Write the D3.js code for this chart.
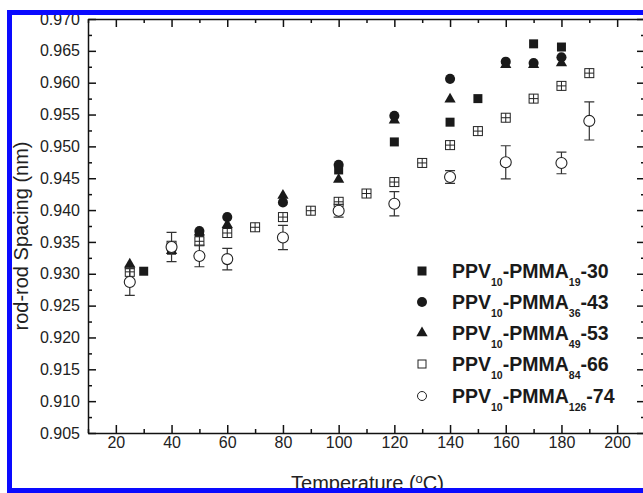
<!DOCTYPE html>
<html>
<head>
<meta charset="utf-8">
<script src="https://cdn.jsdelivr.net/npm/d3@7"></script>
<style>
body { margin: 0; background: #fff; }
svg { display: block; font-family: "Liberation Sans", Arial, sans-serif; }
</style>
</head>
<body>
<div id="chart"></div>
<script>
// PPV10-PMMA19-30 (filled square)
const s30T = [30, 40, 50, 100, 120, 140, 150, 170, 180];
const s30V = [0.9304, 0.9337, 0.9361, 0.9463, 0.9507, 0.9538, 0.9575, 0.9661, 0.9656];
// PPV10-PMMA36-43 (filled circle)
const s43T = [40, 50, 60, 80, 100, 120, 140, 160, 170, 180];
const s43V = [0.9341, 0.9367, 0.9389, 0.9412, 0.9471, 0.9548, 0.9606, 0.9633, 0.9631, 0.9640];
// PPV10-PMMA49-53 (filled triangle)
const s53T = [25, 40, 50, 60, 80, 100, 120, 140, 160, 170, 180];
const s53V = [0.9315, 0.9336, 0.9365, 0.9377, 0.9423, 0.9448, 0.9541, 0.9574, 0.9628, 0.9628, 0.9631];
// PPV10-PMMA84-66 (open square)
const s66T = [25, 40, 50, 60, 70, 80, 90, 100, 110, 120, 130, 140, 150, 160, 170, 180, 190];
const s66V = [0.9303, 0.9344, 0.9351, 0.9364, 0.9373, 0.9389, 0.9399, 0.9413, 0.9426, 0.9444, 0.9474, 0.9502, 0.9524, 0.9545, 0.9575, 0.9595, 0.9615];
// PPV10-PMMA126-74 (open circle, with error bars)
const s74T = [25, 40, 50, 60, 80, 100, 120, 140, 160, 180, 190];
const s74V = [0.9287, 0.9342, 0.9328, 0.9323, 0.9357, 0.9399, 0.9410, 0.9452, 0.9475, 0.9474, 0.9540];
const s74E = [0.0021, 0.0023, 0.0017, 0.0017, 0.0019, 0.0010, 0.0019, 0.0010, 0.0026, 0.0017, 0.0030];

const xTicks = [20, 40, 60, 80, 100, 120, 140, 160, 180, 200];
const yTicks = [0.905, 0.910, 0.915, 0.920, 0.925, 0.930, 0.935, 0.940, 0.945, 0.950, 0.955, 0.960, 0.965, 0.970];

const legendNames = [
    ["PPV", "10", "-PMMA", "19", "-30"],
    ["PPV", "10", "-PMMA", "36", "-43"],
    ["PPV", "10", "-PMMA", "49", "-53"],
    ["PPV", "10", "-PMMA", "84", "-66"],
    ["PPV", "10", "-PMMA", "126", "-74"]
];

const W = 643, H = 493;
const margin = {left: 88, right: 645, top: 19, bottom: 433};

const svg = d3.select("#chart").append("svg").attr("width", W).attr("height", H);

const x = d3.scaleLinear().domain([10, 210]).range([margin.left, margin.right]);
const y = d3.scaleLinear().domain([0.905, 0.970]).range([margin.bottom, margin.top]);

const xMinor = d3.range(10, 211, 10).filter(d => d % 20 !== 0);
const yMinor = d3.range(0, 13).map(i => +(0.9075 + i * 0.005).toFixed(4));

function styleAxis(g) {
    g.selectAll("path, line").attr("stroke", "#111").attr("stroke-width", 1.5);
    g.selectAll("text").attr("fill", "#222").style("font-size", "16px");
}

// major axes
svg.append("g").attr("transform", "translate(0," + margin.bottom + ")")
    .call(d3.axisBottom(x).tickValues(xTicks).tickSize(-8).tickSizeOuter(0).tickPadding(4).tickFormat(d3.format("d")))
    .call(styleAxis);
svg.append("g").attr("transform", "translate(0," + margin.top + ")")
    .call(d3.axisTop(x).tickValues(xTicks).tickSize(-8).tickSizeOuter(0).tickFormat(""))
    .call(styleAxis);
svg.append("g").attr("transform", "translate(" + margin.left + ",0)")
    .call(d3.axisLeft(y).tickValues(yTicks).tickSize(-8).tickSizeOuter(0).tickPadding(8).tickFormat(d3.format(".3f")))
    .call(styleAxis);
svg.append("g").attr("transform", "translate(" + margin.right + ",0)")
    .call(d3.axisRight(y).tickValues(yTicks).tickSize(-8).tickSizeOuter(0).tickFormat(""))
    .call(styleAxis);

// minor ticks
svg.append("g").attr("transform", "translate(0," + margin.bottom + ")")
    .call(d3.axisBottom(x).tickValues(xMinor).tickSize(-4).tickFormat("")).call(styleAxis)
    .select(".domain").remove();
svg.append("g").attr("transform", "translate(0," + margin.top + ")")
    .call(d3.axisTop(x).tickValues(xMinor).tickSize(-4).tickFormat("")).call(styleAxis)
    .select(".domain").remove();
svg.append("g").attr("transform", "translate(" + margin.left + ",0)")
    .call(d3.axisLeft(y).tickValues(yMinor).tickSize(-4).tickFormat("")).call(styleAxis)
    .select(".domain").remove();
svg.append("g").attr("transform", "translate(" + margin.right + ",0)")
    .call(d3.axisRight(y).tickValues(yMinor).tickSize(-4).tickFormat("")).call(styleAxis)
    .select(".domain").remove();

// axis titles
const xt = svg.append("text").attr("x", (margin.left + margin.right) / 2 + 1).attr("y", 490)
    .attr("text-anchor", "middle").attr("fill", "#222").style("font-size", "20px");
xt.append("tspan").text("Temperature (");
xt.append("tspan").attr("dy", -7).style("font-size", "13px").text("o");
xt.append("tspan").attr("dy", 7).text("C)");

svg.append("text").attr("transform", "translate(28,236) rotate(-90)")
    .attr("text-anchor", "middle").attr("fill", "#222").style("font-size", "20px")
    .text("rod-rod Spacing (nm)");

// data
const pts = (T, V) => T.map((t, i) => ({t: t, v: V[i]}));
const plot = svg.append("g");

plot.selectAll(".s30").data(pts(s30T, s30V)).enter().append("path")
    .attr("transform", d => "translate(" + x(d.t) + "," + y(d.v) + ")")
    .attr("d", d3.symbol(d3.symbolSquare, 81)).attr("fill", "#1a1a1a");

plot.selectAll(".s43").data(pts(s43T, s43V)).enter().append("path")
    .attr("transform", d => "translate(" + x(d.t) + "," + y(d.v) + ")")
    .attr("d", d3.symbol(d3.symbolCircle, 80)).attr("fill", "#1a1a1a");

plot.selectAll(".s53").data(pts(s53T, s53V)).enter().append("path")
    .attr("transform", d => "translate(" + x(d.t) + "," + y(d.v) + ")")
    .attr("d", d3.symbol(d3.symbolTriangle, 55)).attr("fill", "#1a1a1a");

const sq = plot.selectAll(".s66").data(pts(s66T, s66V)).enter().append("g")
    .attr("transform", d => "translate(" + x(d.t) + "," + y(d.v) + ")");
sq.append("rect").attr("x", -4.5).attr("y", -4.5).attr("width", 9).attr("height", 9)
    .attr("fill", "#fff").attr("stroke", "#222").attr("stroke-width", 1);
sq.append("path").attr("d", "M-4.5,0H4.5M0,-4.5V4.5").attr("stroke", "#222").attr("stroke-width", 1);

const oc = plot.selectAll(".s74").data(s74T.map((t, i) => ({t: t, v: s74V[i], e: s74E[i]}))).enter().append("g");
oc.append("path")
    .attr("d", d => {
        const cx = x(d.t), y0 = y(d.v - d.e), y1 = y(d.v + d.e);
        return "M" + cx + "," + y0 + "V" + y1 + "M" + (cx - 5) + "," + y0 + "H" + (cx + 5) + "M" + (cx - 5) + "," + y1 + "H" + (cx + 5);
    })
    .attr("stroke", "#333").attr("stroke-width", 1.2).attr("fill", "none");
oc.append("circle").attr("cx", d => x(d.t)).attr("cy", d => y(d.v)).attr("r", 5.5)
    .attr("fill", "#fff").attr("stroke", "#222").attr("stroke-width", 1.1);

// legend
const legY = [271, 302, 333, 364, 396];
const lg = svg.append("g");
legendNames.forEach((parts, i) => {
    const g = lg.append("g").attr("transform", "translate(422," + legY[i] + ")");
    if (i === 0) g.append("rect").attr("x", -4.5).attr("y", -4.5).attr("width", 9).attr("height", 9).attr("fill", "#1a1a1a");
    if (i === 1) g.append("circle").attr("r", 5).attr("fill", "#1a1a1a");
    if (i === 2) g.append("path").attr("d", d3.symbol(d3.symbolTriangle, 55)).attr("fill", "#1a1a1a");
    if (i === 3) g.append("rect").attr("x", -4).attr("y", -4).attr("width", 8).attr("height", 8)
        .attr("fill", "#fff").attr("stroke", "#222").attr("stroke-width", 1);
    if (i === 4) g.append("circle").attr("r", 4.5).attr("fill", "#fff").attr("stroke", "#222").attr("stroke-width", 1);

    const t = g.append("text").attr("x", 30).attr("y", 7).attr("fill", "#1a1a1a")
        .style("font-size", "19.5px").style("font-weight", "bold");
    t.append("tspan").text(parts[0]);
    t.append("tspan").attr("dy", 8).style("font-size", "10.5px").text(parts[1]);
    t.append("tspan").attr("dy", -8).text(parts[2]);
    t.append("tspan").attr("dy", 8).style("font-size", "10.5px").text(parts[3]);
    t.append("tspan").attr("dy", -8).text(parts[4]);
});

// blue frame
svg.append("rect").attr("x", 0).attr("y", 0).attr("width", W).attr("height", 10).attr("fill", "#fff");
svg.append("rect").attr("x", 9.5).attr("y", 12.5).attr("width", 700).attr("height", 478)
    .attr("fill", "none").attr("stroke", "#0a0aff").attr("stroke-width", 5);
</script>
</body>
</html>
